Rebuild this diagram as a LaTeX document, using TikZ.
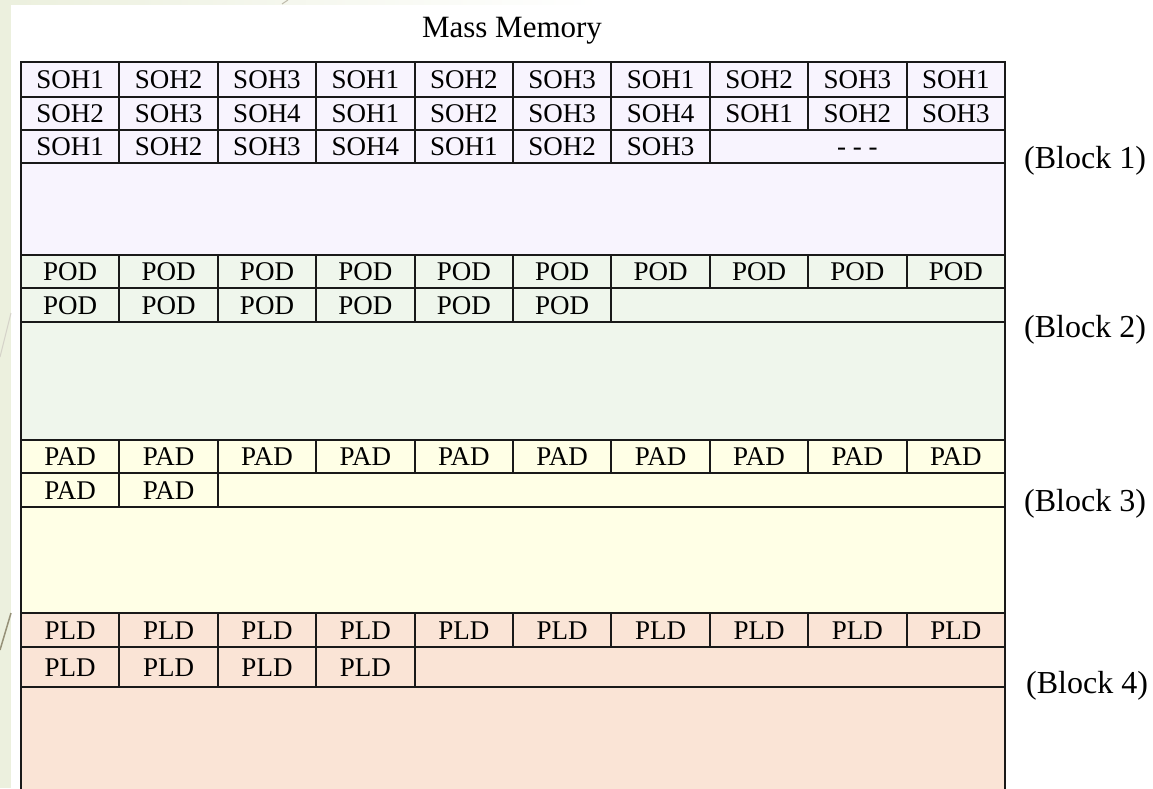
\documentclass[tikz,border=0pt]{standalone}
\usepackage{fontspec}
\setmainfont{Liberation Serif}
\definecolor{bgstrip}{RGB}{236,240,222}
\definecolor{decoline}{RGB}{150,145,120}
\definecolor{blkA}{RGB}{248,244,254}
\definecolor{blkB}{RGB}{239,246,236}
\definecolor{blkC}{RGB}{255,255,230}
\definecolor{blkD}{RGB}{250,228,214}
\newcommand\memrow[4]{%
  \foreach \t [count=\i from 0] in {#4} {
    \node[cell] (#1-\i) at ({21+(\i+0.5)*98.4},{(#2+#3)/2}) {\t};
    \draw[grid] ({21+(\i+1)*98.4},#2) -- ({21+(\i+1)*98.4},#3);
  }}
\begin{document}
\begin{tikzpicture}[x=1pt,y=-1pt,
  grid/.style={line width=2pt, black!90, line cap=rect},
  cell/.style={font=\fontsize{27}{27}\selectfont, text height=18pt, text depth=0pt, inner sep=0pt},
  blocklabel/.style={font=\fontsize{32}{32}\selectfont, anchor=west, inner sep=0pt},
  titlelabel/.style={font=\fontsize{31}{31}\selectfont, anchor=base, inner sep=0pt}]
\useasboundingbox (0,0) rectangle (1153,788);
% slide background
\fill[white] (0,0) rectangle (1153,788);
\fill[bgstrip] (0,0) rectangle (11,788);
\shade[left color=bgstrip, right color=white] (11,0) rectangle (600,4);
\draw[decoline!40, line width=1pt] (11,313) -- (0,357);
\draw[decoline, line width=1.5pt] (11,613) -- (0,650);
\draw[decoline!60, line width=1pt] (288,0) -- (282,4);
% block fills
\fill[blkA] (21,62) rectangle (1005,255);
\fill[blkB] (21,255) rectangle (1005,440);
\fill[blkC] (21,440) rectangle (1005,613.3);
\fill[blkD] (21,613.3) rectangle (1005,800);
% title
\node[titlelabel] (title) at (512,37) {Mass Memory};
% Block 1
\memrow{sa}{62}{96.7}{SOH1,SOH2,SOH3,SOH1,SOH2,SOH3,SOH1,SOH2,SOH3,SOH1}
\memrow{sb}{96.7}{130}{SOH2,SOH3,SOH4,SOH1,SOH2,SOH3,SOH4,SOH1,SOH2,SOH3}
\memrow{sc}{130}{163.3}{SOH1,SOH2,SOH3,SOH4,SOH1,SOH2,SOH3}
\node[cell] (sc-dots) at (857.4,146.7) {- - -};
% Block 2
\memrow{pa}{255}{288.3}{POD,POD,POD,POD,POD,POD,POD,POD,POD,POD}
\memrow{pb}{288.3}{321.7}{POD,POD,POD,POD,POD,POD}
% Block 3
\memrow{da}{440}{473.3}{PAD,PAD,PAD,PAD,PAD,PAD,PAD,PAD,PAD,PAD}
\memrow{db}{473.3}{506.7}{PAD,PAD}
% Block 4
\memrow{la}{613.3}{646.7}{PLD,PLD,PLD,PLD,PLD,PLD,PLD,PLD,PLD,PLD}
\memrow{lb}{646.7}{687.3}{PLD,PLD,PLD,PLD}
% horizontal rules
\foreach \y in {62,96.7,130,163.3,255,288.3,321.7,440,473.3,506.7,613.3,646.7,687.3}
  \draw[grid] (21,\y) -- (1005,\y);
% outer verticals
\draw[grid] (21,62) -- (21,800);
\draw[grid] (1005,62) -- (1005,800);
% block labels
\node[blocklabel] (b1) at (1024,161) {(Block 1)};
\node[blocklabel] (b2) at (1024,330) {(Block 2)};
\node[blocklabel] (b3) at (1024,504) {(Block 3)};
\node[blocklabel] (b4) at (1026,686) {(Block 4)};
\end{tikzpicture}
\end{document}
